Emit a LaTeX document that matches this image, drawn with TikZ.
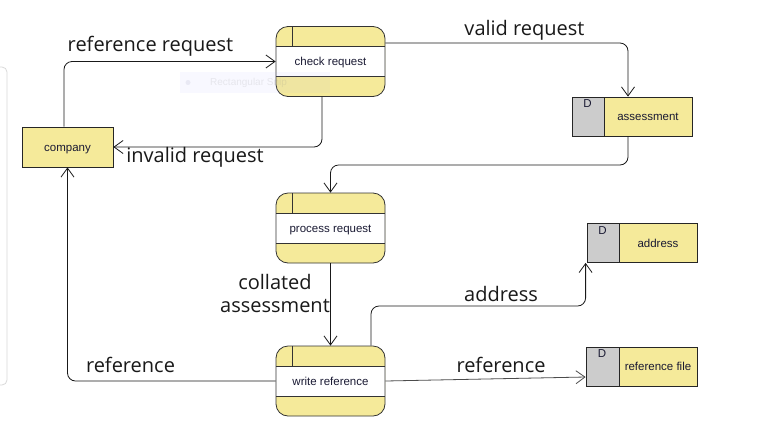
\documentclass[tikz,border=0pt]{standalone}
\usepackage{fontspec}
\setmainfont{Liberation Sans}
\newfontfamily\labelfont{Open Sans}
\usetikzlibrary{arrows.meta,calc}
\definecolor{procyellow}{HTML}{F5EA9A}
\definecolor{storegray}{HTML}{CCCCCC}
\definecolor{nodetext}{HTML}{1A1A33}
\begin{document}
\begin{tikzpicture}[x=1pt,y=-1pt,
  proc/.style={rectangle, rounded corners=12pt, draw=black!80, line width=0.8pt, fill=procyellow,
    minimum width=109pt, minimum height=70pt, inner sep=0pt, text height=8pt, text depth=0pt,
    font=\fontsize{11.5}{13}\selectfont, text=nodetext,
    path picture={
      \fill[white, sharp corners] ([yshift=-20pt]path picture bounding box.north west) rectangle ([yshift=20pt]path picture bounding box.south east);
      \draw[black!80, line width=0.8pt, sharp corners]
        ([yshift=-20pt]path picture bounding box.north west) -- ([yshift=-20pt]path picture bounding box.north east)
        ([yshift=20pt]path picture bounding box.south west) -- ([yshift=20pt]path picture bounding box.south east)
        ([xshift=16pt]path picture bounding box.north west) -- ([xshift=16pt,yshift=-20pt]path picture bounding box.north west);
    }},
  store/.style={rectangle, draw=black!85, line width=0.8pt, fill=procyellow, minimum height=39pt, inner sep=0pt,
    text height=8pt, text depth=0pt,
    font=\fontsize{11.5}{13}\selectfont, text=nodetext,
    path picture={
      \fill[storegray] (path picture bounding box.north west) rectangle ([xshift=#1]path picture bounding box.south west);
      \draw[black!85, line width=0.8pt] ([xshift=#1]path picture bounding box.north west) -- ([xshift=#1]path picture bounding box.south west);
    }},
  store/.default=32pt,
  ent/.style={rectangle, draw=black!85, line width=0.8pt, fill=procyellow, minimum width=91pt, minimum height=40pt,
    inner sep=0pt, text height=8pt, text depth=0pt, font=\fontsize{11.5}{13}\selectfont, text=nodetext},
  dlab/.style={inner sep=0pt, font=\fontsize{11.5}{13}\selectfont, text=nodetext},
  lab/.style={inner sep=0pt, anchor=base, font=\labelfont\fontsize{20}{24}\selectfont, text=black!90},
  flow/.style={draw=black!90, line width=0.8pt, rounded corners=8pt, -{Straight Barb[length=9pt,width=13pt]}}
]
\useasboundingbox (0,0) rectangle (784,432);
\fill[white] (0,0) rectangle (784,432);
% left panel edge
\draw[gray!30, line width=0.8pt, rounded corners=5pt] (-10,67) -- (7,67) -- (7,385) -- (-10,385);

% nodes
\node[proc] (check) at (330.5,61.5) {check request};
\node[proc] (proc) at (330.5,228) {process request};
\node[proc] (write) at (330.5,381) {write reference};
\node[ent] (company) at (67.5,147) {company};
\node[store] (assess) at (632,116.5) {\makebox[32pt]{}\makebox[88pt]{assessment}};
\node[store] (address) at (642,243) {\makebox[32pt]{}\makebox[78pt]{address}};
\node[store=33pt] (reffile) at (641.5,366.5) {\makebox[33pt]{}\makebox[78pt]{reference file}};
\node[dlab] (dA) at ([xshift=16pt,yshift=-7pt]assess.north west) {D};
\node[dlab] (dB) at ([xshift=16pt,yshift=-7pt]address.north west) {D};
\node[dlab] (dC) at ([xshift=16.5pt,yshift=-7pt]reffile.north west) {D};

% helper coordinates
\coordinate (c1) at ([xshift=-3.5pt]company.north);
\coordinate (c2) at ([yshift=18.5pt]check.east);
\coordinate (c3) at ([xshift=-4pt]assess.north);
\coordinate (c4) at ([xshift=-8.5pt]check.south);
\coordinate (c5) at ([xshift=-4pt]assess.south);
\coordinate (c6) at ([xshift=40.5pt]write.north);
\coordinate (c7) at ([xshift=-1pt]address.south west);
\coordinate (c8) at ([yshift=-10.5pt]reffile.west);

% connectors
\draw[flow] (c1) |- (check.west);
\draw[flow] (c2) -| (c3);
\draw[flow] (c4) |- (company.east);
\draw[flow] (c5) -- (c5 |- 0,165) -| (proc.north);
\draw[flow, rounded corners=0pt] (proc.south) -- (write.north);
\draw[flow] (c6) -- (c6 |- 0,306) -| (c7);
\draw[flow, draw=black!70, rounded corners=0pt] (write.east) -- (c8);
\draw[flow] (write.west) -| (company.south);

% labels
\node[lab] (lrr) at (150.5,51.7) {reference request};
\node[lab] (lvr) at (524.5,35.7) {valid request};
\node[lab] (lir) at (195,162) {invalid request};
\node[lab] (lca1) at (275,289.3) {collated};
\node[lab] (lca2) at (275,312.7) {assessment};
\node[lab] (lad) at (501,301) {address};
\node[lab] (lrl) at (130.5,372) {reference};
\node[lab] (lrf) at (501,372) {reference};

% faint screenshot overlay
\fill[blue!30!white, opacity=0.08] (180,72) rectangle (330,93);
\fill[blue!20!gray, opacity=0.1] (188,82.5) circle (2.5pt);
\node[inner sep=0pt, font=\fontsize{10}{12}\selectfont, text=gray, opacity=0.15, anchor=west] (snip) at (210,82.5) {Rectangular Snip};
\end{tikzpicture}
\end{document}
